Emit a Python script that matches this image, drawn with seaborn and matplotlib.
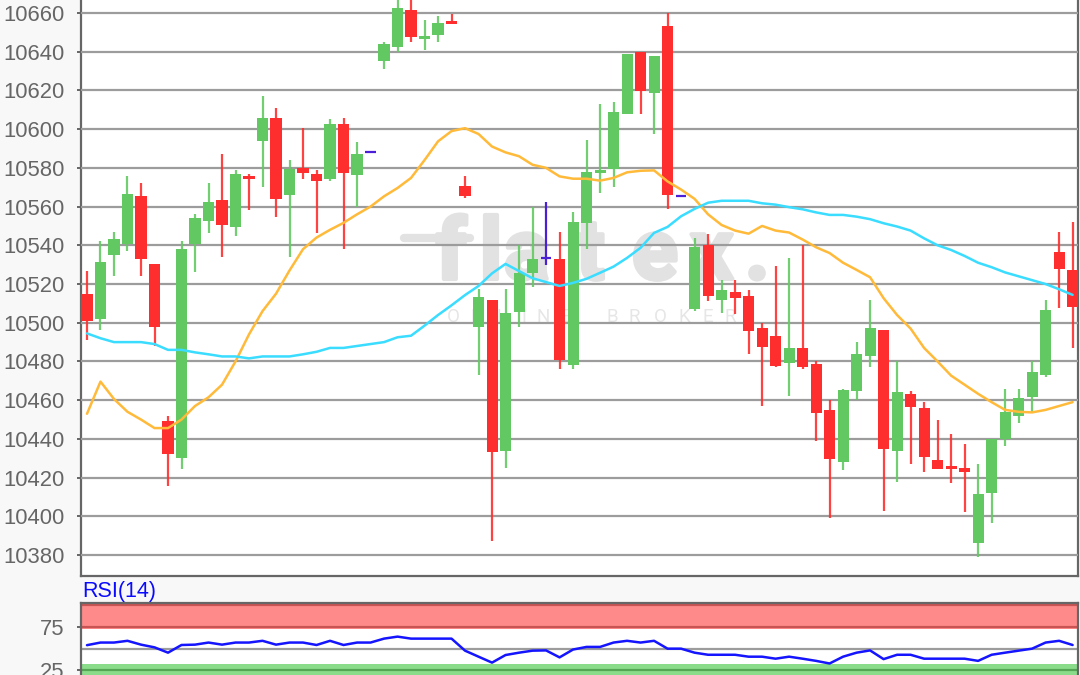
"""Candlestick chart with two moving averages and an RSI(14) panel below."""

import matplotlib.patheffects as path_effects
import matplotlib.pyplot as plt
import numpy as np
import pandas as pd
import seaborn as sns

WIDTH_PX, HEIGHT_PX = 1080, 675

OPENS = [
    10515, 10502, 10534.8, 10540.6, 10565.7, 10530.6, 10449, 10430, 10540.6, 10552.6,
    10563.6, 10549.5, 10576, 10594, 10606, 10566, 10579.8, 10577, 10574, 10602.8,
    10576.3, 10588, 10635, 10642.3, 10661.5, 10646.5, 10648.5, 10656, 10570.8, 10498,
    10512, 10434, 10505.4, 10525.5, 10533.5, 10533, 10478, 10551.6, 10577.4, 10579.4,
    10608, 10640, 10618.6, 10653.3, 10565.3, 10507, 10540, 10512, 10515.8, 10514,
    10497.4, 10493, 10479, 10487, 10478.8, 10455, 10428.3, 10464.6, 10483, 10496.3,
    10433.7, 10463, 10456, 10429, 10426, 10425, 10386, 10412, 10440, 10452,
    10461.5, 10473, 10536.6, 10527.3,
]
CLOSES = [
    10501, 10531.6, 10543, 10566.7, 10533, 10498, 10432, 10538, 10554.3, 10562.6,
    10550.5, 10577, 10574.3, 10606, 10564, 10579.4, 10577.4, 10573, 10602.8, 10577.4,
    10587.3, 10588, 10644, 10662.6, 10647.5, 10648, 10655, 10654.3, 10565.7, 10513.3,
    10433, 10505, 10525.5, 10532.7, 10533.5, 10481, 10552, 10578, 10579, 10609,
    10639, 10619.5, 10638, 10566, 10565.3, 10539, 10513.6, 10517, 10513, 10495.6,
    10487.4, 10477.7, 10487, 10477, 10453.3, 10429.5, 10465.3, 10484, 10497.4, 10434.7,
    10464.3, 10456.4, 10430.6, 10424.4, 10424.4, 10423, 10411.6, 10440, 10454, 10461.2,
    10474.6, 10506.6, 10527.6, 10508,
]
HIGHS = [
    10526.5, 10542, 10547, 10576, 10572, 10530.6, 10452, 10542, 10556, 10572,
    10587, 10579, 10577, 10617, 10611, 10584, 10600.7, 10579, 10605, 10606,
    10593.5, 10588, 10645, 10668, 10668, 10656.4, 10658.5, 10659.5, 10576, 10517.4,
    10512, 10517.4, 10540.4, 10560, 10562.6, 10547, 10557, 10594.5, 10613, 10614,
    10639, 10640, 10638, 10660, 10565.3, 10544, 10546, 10522, 10522, 10517,
    10500, 10529.4, 10533.5, 10540, 10480, 10460, 10466, 10490, 10512, 10496.3,
    10480, 10465, 10459, 10450, 10442.6, 10437.4, 10427, 10440, 10466, 10466,
    10480.5, 10512, 10547, 10552,
]
LOWS = [
    10491, 10496, 10524, 10537, 10524, 10488, 10415.5, 10424.5, 10526, 10546.5,
    10534, 10545, 10558, 10570, 10554.7, 10534, 10574, 10546.5, 10573, 10538,
    10560, 10588, 10631, 10639.6, 10645, 10641, 10645, 10654.3, 10564.6, 10473,
    10387.5, 10425, 10498, 10518.6, 10529.6, 10476, 10476, 10538, 10567, 10570,
    10608, 10608, 10597.6, 10559, 10565.3, 10506, 10511, 10505, 10504.6, 10484,
    10457, 10477, 10462, 10476, 10438.7, 10399.4, 10424, 10460, 10477, 10403,
    10418, 10427, 10423, 10424.4, 10417, 10402, 10379, 10396.5, 10436.4, 10448,
    10453.7, 10472, 10507.7, 10487,
]
MA_ORANGE = [
    10453, 10469.6, 10460.6, 10454, 10450, 10445.6, 10445.6, 10450, 10457, 10461.5,
    10468, 10480, 10494, 10506, 10515, 10527, 10538, 10544, 10548, 10551.6,
    10556, 10560, 10565.3, 10569.6, 10574.8, 10584, 10593.7, 10599, 10600.5, 10597.5,
    10591, 10588, 10586, 10581.6, 10580, 10575.6, 10574.4, 10574.4, 10573.4, 10574.8,
    10577.7, 10578.5, 10578.7, 10573, 10568.8, 10564, 10556, 10550.5, 10547.6, 10546,
    10550, 10547.6, 10546.6, 10543, 10539, 10536, 10531, 10527.3, 10523.5, 10512.7,
    10504, 10497, 10487, 10480, 10472.7, 10468, 10463.3, 10459, 10455, 10454,
    10453.7, 10455, 10457, 10459,
]
MA_CYAN = [
    10494.5, 10492, 10490, 10490, 10490, 10489, 10486, 10486, 10484.7, 10483.7,
    10482.6, 10482.6, 10481.6, 10482.6, 10482.6, 10482.6, 10483.7, 10485, 10487, 10487,
    10488, 10489, 10490, 10492.5, 10493.3, 10498.5, 10504, 10509, 10514.3, 10519,
    10525.5, 10530.4, 10526.7, 10523, 10521, 10519, 10520.6, 10522.7, 10525.8, 10529,
    10533.5, 10538.7, 10546.4, 10549.5, 10555, 10558.8, 10562, 10563, 10563, 10563,
    10561.7, 10561, 10559.7, 10558.6, 10557, 10555.7, 10555.7, 10554.8, 10553.5, 10551.4,
    10549.7, 10547.6, 10543.6, 10540, 10537.6, 10534.5, 10531, 10528.7, 10526, 10524,
    10522, 10520, 10517.3, 10514.4,
]
RSI_VALUES = [
    54, 57, 57, 59, 54.6, 51.5, 45.4, 54.2, 54.6, 57,
    54.6, 57, 57, 59, 54.6, 57, 57, 54.2, 59, 54.2,
    57, 57, 61.5, 63.8, 61.5, 61.5, 61.5, 61.5, 47.7, 40.8,
    34, 42.7, 45.4, 47.7, 48, 40, 49, 52, 52, 57,
    59, 57, 59, 50, 50, 45.4, 43, 43, 43, 40.8,
    40.8, 38.5, 40.8, 38.5, 36, 33, 40.8, 45.4, 48, 38,
    43, 43, 38.5, 38.5, 38.5, 38.5, 36, 43, 45.4, 47.7,
    50, 57, 59, 54.2,
]
PRICE_TICKS = list(range(10380, 10680, 20))
RSI_TICKS = [25, 75]
RSI_GRID = [25, 50, 75, 100]

COLOR_UP = "#62c962"
COLOR_DOWN = "#ff2e2e"
COLOR_DOJI = "#4a1fd6"
COLOR_ORANGE = "#ffba3a"
COLOR_CYAN = "#3adcff"
COLOR_RSI = "#1414ff"
COLOR_FRAME = "#666666"
COLOR_GRID = "#9c9c9c"
COLOR_MARK = "#e2e2e2"

# Watermark letters and where each one starts, in figure pixels.
LOGO_LETTERS = ["f", "l", "a", "t", "e", "x", "."]
LOGO_LEFT_PX = [436, 480, 504, 576, 632, 690, 745]
SUBTITLE_LETTERS = list("ONLINEBROKER")
SUBTITLE_LEFT_PX = [447, 471, 497, 521, 537, 561, 606, 629, 654, 679, 703, 725]

sns.set_theme(style="white")
plt.rcParams["font.family"] = ["Liberation Sans", "DejaVu Sans"]


def style_frame(ax: plt.Axes) -> None:
    """Dark thin frame, grey tick labels, short tick marks on the left."""
    for spine in ax.spines.values():
        spine.set_color(COLOR_FRAME)
        spine.set_linewidth(1.6)
    ax.set_xticks([])
    ax.tick_params(
        axis="y", left=True, length=3, width=1.4, color=COLOR_FRAME,
        labelcolor=COLOR_FRAME, labelsize=15.8, pad=9,
    )
    ax.set_ylabel("")
    ax.set_xlabel("")


def draw_watermark(fig: plt.Figure, ax: plt.Axes) -> None:
    """Pale logo under the grid: thick rounded letters and a spaced-out subtitle."""
    thicken = [path_effects.withStroke(linewidth=3, foreground=COLOR_MARK)]
    for letter, left in zip(LOGO_LETTERS, LOGO_LEFT_PX):
        ax.text(
            left / WIDTH_PX, (HEIGHT_PX - 279) / HEIGHT_PX, letter, transform=fig.transFigure,
            color=COLOR_MARK, fontsize=61, fontweight="bold", family="Roboto",
            ha="left", va="baseline", zorder=1, path_effects=thicken,
        )
    # The long crossbar of the f reaches far to the left of the glyph.
    ax.plot(
        [404 / WIDTH_PX, 470 / WIDTH_PX], [(HEIGHT_PX - 238) / HEIGHT_PX] * 2, transform=fig.transFigure,
        color=COLOR_MARK, linewidth=6, solid_capstyle="round", zorder=1,
    )
    for letter, left in zip(SUBTITLE_LETTERS, SUBTITLE_LEFT_PX):
        ax.text(
            left / WIDTH_PX, (HEIGHT_PX - 322) / HEIGHT_PX, letter, transform=fig.transFigure,
            color="#e6e6e6", fontsize=13.5, family="Roboto", ha="left", va="baseline", zorder=1,
        )


def draw_candles(ax: plt.Axes, frame: pd.DataFrame) -> None:
    """Wicks and bodies; equal open and close gets a purple dash."""
    up = frame[frame["close"] > frame["open"]]
    down = frame[frame["close"] < frame["open"]]
    doji = frame[frame["close"] == frame["open"]]

    for part, color in [(up, COLOR_UP), (down, COLOR_DOWN)]:
        ax.vlines(part["bar"], part["low"], part["high"], color=color, linewidth=1.6, alpha=0.9, zorder=3)
        ax.bar(
            part["bar"], (part["close"] - part["open"]).abs(), bottom=part[["open", "close"]].min(axis=1),
            width=0.82, color=color, linewidth=0, zorder=4,
        )
    ax.vlines(doji["bar"], doji["low"], doji["high"], color=COLOR_DOJI, linewidth=1.6, zorder=4)
    ax.hlines(doji["close"], doji["bar"] - 0.38, doji["bar"] + 0.38, color=COLOR_DOJI, linewidth=1.6, zorder=4)


def main() -> None:
    frame = pd.DataFrame(
        {
            "bar": np.arange(len(CLOSES)),
            "open": OPENS,
            "high": HIGHS,
            "low": LOWS,
            "close": CLOSES,
            "ma_orange": MA_ORANGE,
            "ma_cyan": MA_CYAN,
            "rsi": RSI_VALUES,
        }
    )

    fig = plt.figure(figsize=(WIDTH_PX / 100, HEIGHT_PX / 100), dpi=100, facecolor="#f8f8f8")
    price_ax = fig.add_axes([81 / WIDTH_PX, (HEIGHT_PX - 576) / HEIGHT_PX, 997 / WIDTH_PX, 576 / HEIGHT_PX])
    rsi_ax = fig.add_axes([81 / WIDTH_PX, 0, 997 / WIDTH_PX, (HEIGHT_PX - 603.3) / HEIGHT_PX])
    price_ax.set_facecolor("white")
    rsi_ax.set_facecolor("white")

    draw_watermark(fig, price_ax)
    price_ax.set_yticks(PRICE_TICKS)
    price_ax.grid(axis="y", color=COLOR_GRID, linewidth=1.6)
    price_ax.set_axisbelow(False)
    draw_candles(price_ax, frame)
    sns.lineplot(data=frame, x="bar", y="ma_orange", color=COLOR_ORANGE, linewidth=1.8, ax=price_ax, zorder=5)
    sns.lineplot(data=frame, x="bar", y="ma_cyan", color=COLOR_CYAN, linewidth=1.8, ax=price_ax, zorder=5)
    price_ax.set_xlim(-0.444, 73.4)
    price_ax.set_ylim(10369.2, 10666.7)
    style_frame(price_ax)
    price_ax.spines["top"].set_visible(False)

    for level in RSI_GRID:
        rsi_ax.axhline(level, color=COLOR_GRID, linewidth=1.6, zorder=1)
    rsi_ax.axhspan(72, 102, color=(1.0, 0.0, 0.0), alpha=0.46, linewidth=0, zorder=2)
    rsi_ax.axhspan(19.8, 32.4, color=(0.0, 0.7, 0.0), alpha=0.46, linewidth=0, zorder=2)
    sns.lineplot(data=frame, x="bar", y="rsi", color=COLOR_RSI, linewidth=1.8, ax=rsi_ax, zorder=3)
    rsi_ax.set_xlim(-0.444, 73.4)
    rsi_ax.set_ylim(19.8, 102)
    rsi_ax.set_yticks(RSI_TICKS)
    style_frame(rsi_ax)
    rsi_ax.spines["bottom"].set_visible(False)

    fig.text(82 / WIDTH_PX, (HEIGHT_PX - 592) / HEIGHT_PX, "RSI(14)", color="#0a0aff", fontsize=15.5, va="center")

    fig.savefig("out.png", dpi=100, facecolor=fig.get_facecolor())
    plt.close(fig)


if __name__ == "__main__":
    main()
